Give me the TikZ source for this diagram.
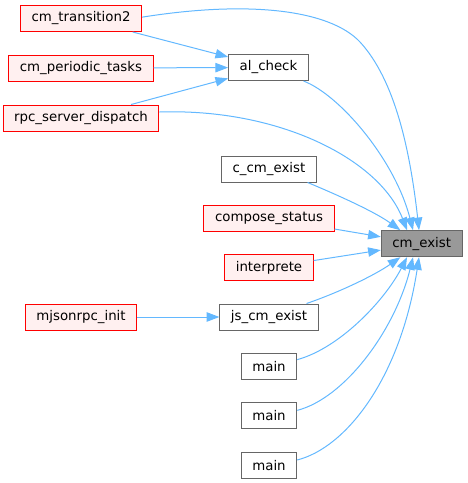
\documentclass[tikz,border=0pt]{standalone}
\usepackage{fontspec}
\setmainfont{DejaVu Sans}
\usetikzlibrary{arrows.meta}
\definecolor{edgeblue}{HTML}{63B8FF}
\definecolor{callerfill}{HTML}{FFF0F0}
\definecolor{boxgray}{HTML}{666666}
\definecolor{focusfill}{HTML}{999999}

\begin{document}
\begin{tikzpicture}[
        x=0.75pt, y=-0.75pt,
        box/.style={draw=boxgray, fill=white, line width=0.75pt,
                    inner xsep=8.3pt, inner ysep=2pt, minimum height=19.5pt},
        caller/.style={box, draw=red, fill=callerfill},
        focus/.style={box, fill=focusfill},
        flow/.style={-{Triangle[length=9.5pt, width=7pt]}, color=edgeblue, line width=0.75pt}]

    \useasboundingbox (0,0) rectangle (468,483);

    \node[caller] (trans2)   at (81,18.5)    {cm\_transition2};
    \node[caller] (periodic) at (81,68)      {cm\_periodic\_tasks};
    \node[caller] (rpcdisp)  at (81,118)     {rpc\_server\_dispatch};
    \node[caller] (mjinit)   at (81,317)     {mjsonrpc\_init};
    \node[box]    (alcheck)  at (268.5,67.5) {al\_check};
    \node[box]    (ccm)      at (269,169)    {c\_cm\_exist};
    \node[caller] (compose)  at (269,218)    {compose\_status};
    \node[caller] (interp)   at (269,267.5)  {interprete};
    \node[box]    (jscm)     at (269,317)    {js\_cm\_exist};
    \node[box]    (main1)    at (269,366.3)  {main};
    \node[box]    (main2)    at (269,415.7)  {main};
    \node[box]    (main3)    at (269,465.3)  {main};
    \node[focus]  (cmexist)  at (421.7,243.7) {cm\_exist};

    % --- callers of al_check and js_cm_exist
    \draw[flow] (trans2)   -- (alcheck);
    \draw[flow] (periodic) -- (alcheck);
    \draw[flow] (rpcdisp)  -- (alcheck);
    \draw[flow] (mjinit)   -- (jscm);

    % --- into cm_exist from above
    \draw[flow] ([yshift=1pt]trans2.east) .. controls (250,0) and (330,10) .. (360,42)
                .. controls (395,80) and (410,150) .. ([xshift=-2pt]cmexist.north);
    \draw[flow] ([xshift=-4pt]alcheck.south east) .. controls (340,95) and (395,160) .. ([xshift=-6.5pt]cmexist.north);
    \draw[flow] ([yshift=4.5pt]rpcdisp.east) .. controls (280,108) and (380,160) .. ([xshift=-11pt]cmexist.north);
    \draw[flow] ([xshift=-7pt]ccm.south east) .. controls (340,196) and (375,212) .. ([xshift=-16pt]cmexist.north);

    % --- from the left
    \draw[flow] (compose) -- (cmexist);
    \draw[flow] (interp)  -- (cmexist);

    % --- from below
    \draw[flow] ([xshift=-9pt]jscm.north east) .. controls (340,292) and (375,275) .. ([xshift=-16pt]cmexist.south);
    \draw[flow] ([yshift=5pt]main1.east) .. controls (340,348) and (385,300) .. ([xshift=-11pt]cmexist.south);
    \draw[flow] ([yshift=4pt]main2.east) .. controls (345,398) and (395,330) .. ([xshift=-6.5pt]cmexist.south);
    \draw[flow] ([yshift=4pt]main3.east) .. controls (345,448) and (400,380) .. ([xshift=-2pt]cmexist.south);

\end{tikzpicture}
\end{document}
